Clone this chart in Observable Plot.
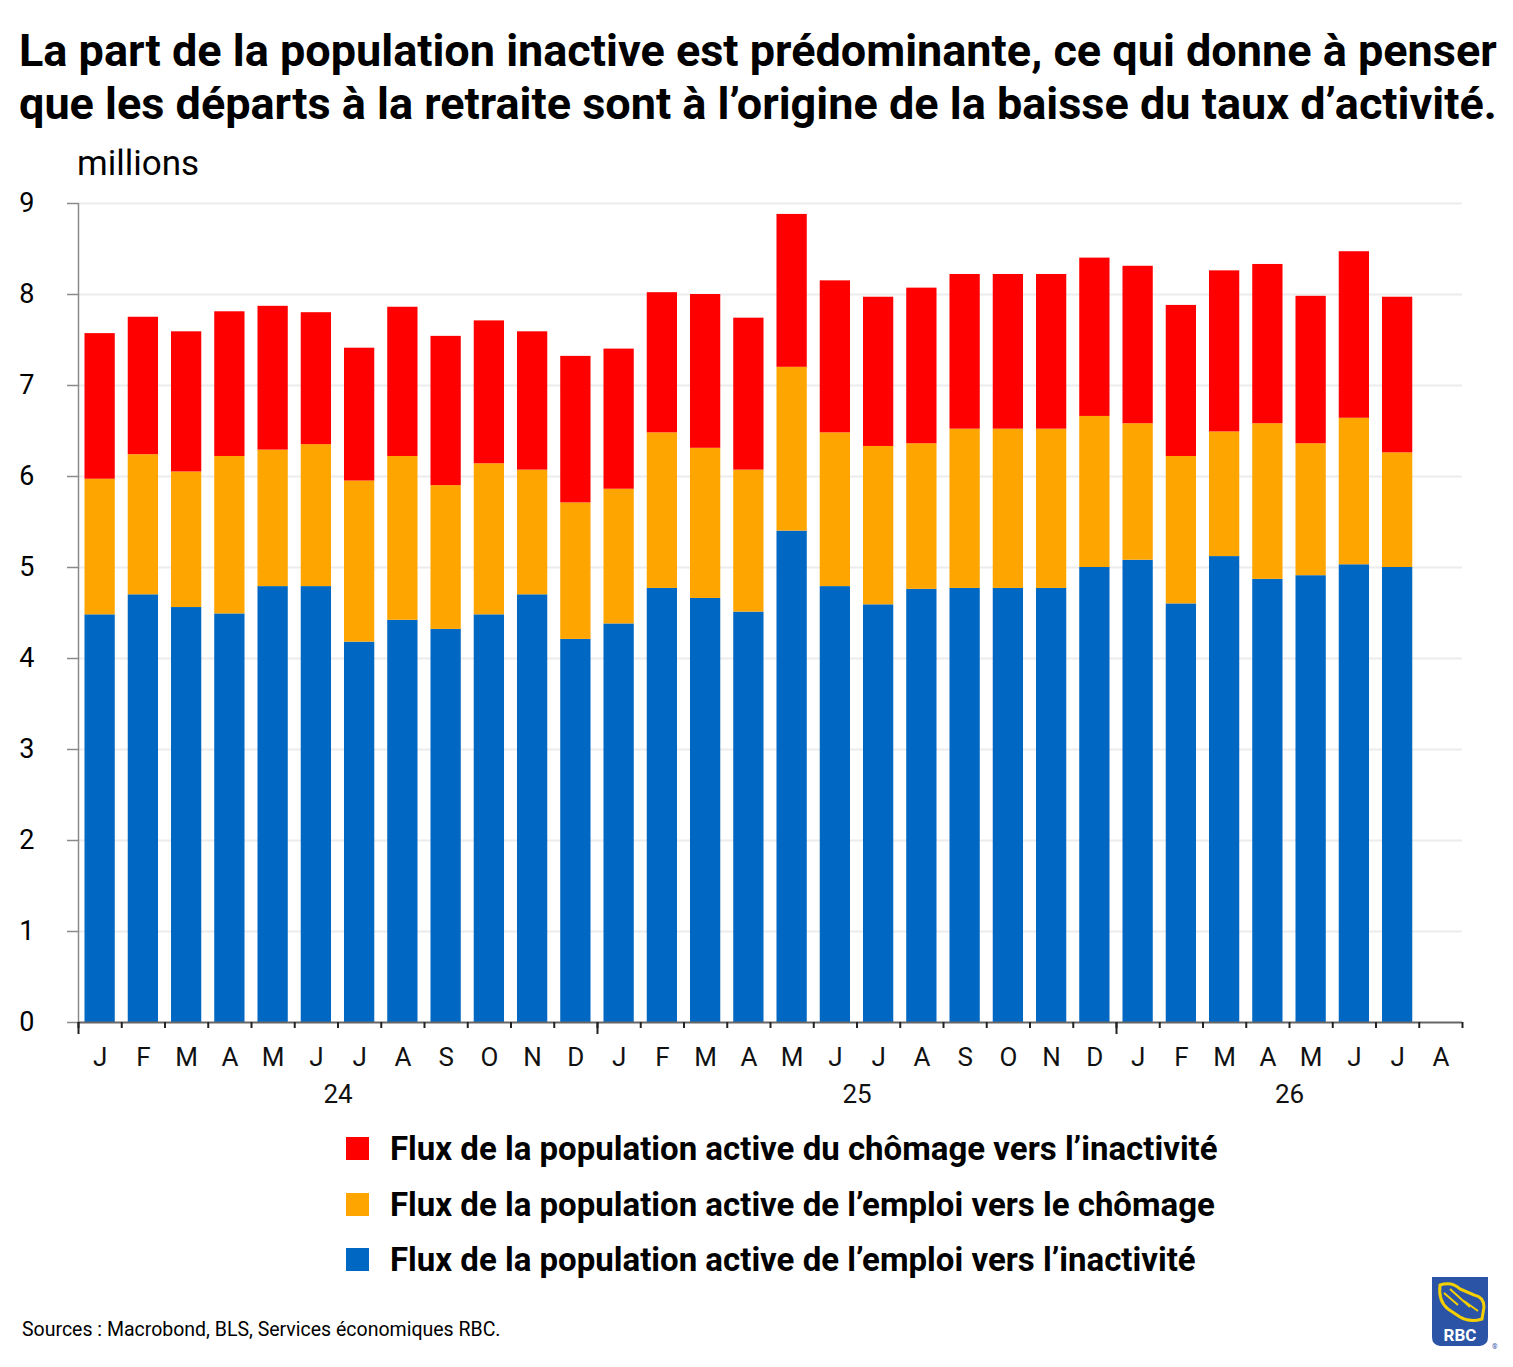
<!DOCTYPE html>
<html>
<head>
<meta charset="utf-8">
<script src="https://cdn.jsdelivr.net/npm/d3@7"></script>
<script src="https://cdn.jsdelivr.net/npm/@observablehq/plot@0.6"></script>
<style>
  body { margin: 0; background: #fff; font-family: Roboto, "Liberation Sans", sans-serif; }
  #wrap { position: relative; width: 1513px; height: 1367px; overflow: hidden; background: #fff; }
  #title { position: absolute; left: 19px; top: 24px; font-size: 45px; font-weight: 700; line-height: 53px; color: #000; white-space: nowrap; letter-spacing: 0px; z-index: 2; }
  #unit { position: absolute; left: 77px; top: 143px; font-size: 35px; color: #000; z-index: 2; }
  #chart { position: absolute; left: 0; top: 140px; z-index: 1; }
  #legend { position: absolute; left: 346px; top: 1121px; }
  .item { display: flex; align-items: center; height: 55.5px; font-size: 33px; font-weight: 700; color: #000; white-space: nowrap; }
  .sw { width: 23px; height: 23px; margin-right: 21px; flex: none; }
  #source { position: absolute; left: 22px; top: 1318px; font-size: 19.5px; color: #000; }
  #logo { position: absolute; left: 1430px; top: 1275px; }
</style>
</head>
<body>
<div id="wrap">
  <div id="title">La part de la population inactive est prédominante, ce qui donne à penser<br>que les départs à la retraite sont à l’origine de la baisse du taux d’activité.</div>
  <div id="unit">millions</div>
  <div id="chart"></div>
  <div id="legend"></div>
  <div id="source">Sources : Macrobond, BLS, Services économiques RBC.</div>
  <svg id="logo" width="70" height="80" viewBox="0 0 70 80">
    <path d="M2 2 H58 V62 Q58 70 50 71 H10 Q2 70 2 62 Z" fill="#2b53a6"/>
    <path d="M10 10 Q22 6 30 14 L44 20 Q54 22 54 32 L52 44 Q40 48 30 42 L18 34 Q8 26 10 10 Z" fill="none" stroke="#f5d000" stroke-width="3"/>
    <path d="M14 18 L28 30 M20 14 L40 32 M34 26 L48 36" stroke="#f5d000" stroke-width="2" fill="none"/>
    <text x="30" y="66" text-anchor="middle" font-family="Roboto, sans-serif" font-weight="700" font-size="17" fill="#fff">RBC</text>
    <text x="62" y="74" font-size="7" fill="#2b53a6">®</text>
  </svg>
</div>
<script>
const months = ["J","F","M","A","M","J","J","A","S","O","N","D",
                "J","F","M","A","M","J","J","A","S","O","N","D",
                "J","F","M","A","M","J","J","A"];
const years = ["24", "25", "26"];
const yearStart = [0, 12, 24];
const yearEnd = [12, 24, 32];

const seriesNames = [
  "Flux de la population active de l’emploi vers l’inactivité",
  "Flux de la population active de l’emploi vers le chômage",
  "Flux de la population active du chômage vers l’inactivité"
];
const seriesColors = ["#0068c2", "#ffa500", "#ff0000"];

// millions, Jan 2024 – Jul 2026
const emploiVersInactivite = [4.48,4.70,4.56,4.49,4.79,4.79,4.18,4.42,4.32,4.48,4.70,4.21,
                              4.38,4.77,4.66,4.51,5.40,4.79,4.59,4.76,4.77,4.77,4.77,5.00,
                              5.08,4.60,5.12,4.87,4.91,5.03,5.00];
const emploiVersChomage = [1.49,1.54,1.49,1.73,1.50,1.56,1.77,1.80,1.58,1.66,1.37,1.50,
                           1.48,1.71,1.65,1.56,1.80,1.69,1.74,1.60,1.75,1.75,1.75,1.66,
                           1.50,1.62,1.37,1.71,1.45,1.61,1.26];
const chomageVersInactivite = [1.60,1.51,1.54,1.59,1.58,1.45,1.46,1.64,1.64,1.57,1.52,1.61,
                               1.54,1.54,1.69,1.67,1.68,1.67,1.64,1.71,1.70,1.70,1.70,1.74,
                               1.73,1.66,1.77,1.75,1.62,1.83,1.71];
const yTicks = [0,1,2,3,4,5,6,7,8,9];

const seriesValues = [emploiVersInactivite, emploiVersChomage, chomageVersInactivite];
const rows = [];
seriesValues.forEach((vals, s) => {
  vals.forEach((v, i) => rows.push({i, series: seriesNames[s], value: v}));
});

const chart = Plot.plot({
  width: 1513,
  height: 980,
  marginLeft: 78,
  marginRight: 51,
  marginTop: 63,
  marginBottom: 98,
  x: {type: "linear", domain: [0, months.length], axis: null},
  y: {domain: [0, 9], axis: null},
  color: {domain: seriesNames, range: seriesColors},
  style: {fontFamily: "Roboto, sans-serif", color: "#000", background: "transparent"},
  marks: [
    Plot.ruleY(yTicks.slice(1), {stroke: "#ececec", strokeWidth: 2}),
    Plot.rectY(rows, {
      x1: d => d.i + 0.15,
      x2: d => d.i + 0.85,
      y: "value",
      fill: "series",
      order: seriesNames
    }),
    Plot.ruleX([0], {stroke: "#8a8a8a", strokeWidth: 1.5}),
    Plot.axisY({ticks: yTicks, label: null, tickSize: 11, tickPadding: 33, tickFormat: d => d, fontSize: 27, stroke: "#8a8a8a", strokeWidth: 1.5}),
    Plot.ruleY([0], {stroke: "#666", strokeWidth: 2}),
    Plot.axisX({ticks: d3.range(0, months.length + 1), label: null, tickSize: 6, tickFormat: () => "", stroke: "#222", strokeWidth: 2}),
    Plot.axisX({ticks: yearStart, label: null, tickSize: 12, tickFormat: () => "", stroke: "#222", strokeWidth: 2}),
    Plot.text(months, {x: (d, i) => i + 0.5, y: 0, dy: 35, text: d => d, fontSize: 26, fill: "#111"}),
    Plot.text(years, {x: (d, i) => (yearStart[i] + yearEnd[i]) / 2, y: 0, dy: 72, text: d => d, fontSize: 26, fill: "#111"})
  ]
});
document.getElementById("chart").appendChild(chart);

const legend = document.getElementById("legend");
[2, 1, 0].forEach(s => {
  const item = document.createElement("div");
  item.className = "item";
  item.innerHTML = `<span class="sw" style="background:${seriesColors[s]}"></span><span>${seriesNames[s]}</span>`;
  legend.appendChild(item);
});
</script>
</body>
</html>
